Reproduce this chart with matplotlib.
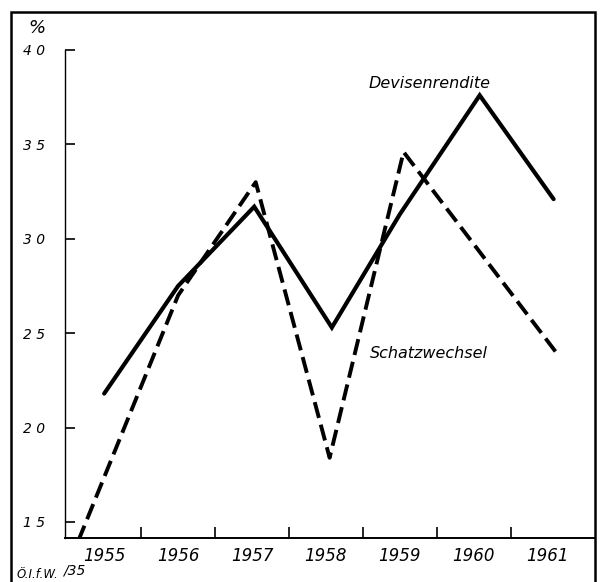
import matplotlib
matplotlib.use("Agg")
import matplotlib.pyplot as plt
from matplotlib.patches import Rectangle

# ---- data ----
years = [1955, 1956, 1957, 1958, 1959, 1960, 1961]
year_labels = ["1955", "1956", "1957", "1958", "1959", "1960", "1961"]

devisen_x = [1955.0, 1956.0, 1957.03, 1958.08, 1959.0, 1960.08, 1961.08]
devisen_y = [2.18, 2.75, 3.17, 2.53, 3.13, 3.76, 3.21]

schatz_x = [1954.65, 1956.0, 1957.05, 1958.05, 1959.05, 1961.15]
schatz_y = [1.40, 2.70, 3.30, 1.84, 3.46, 2.38]

y_ticks = [1.5, 2.0, 2.5, 3.0, 3.5, 4.0]
y_tick_labels = ["1 5", "2 0", "2 5", "3 0", "3 5", "4 0"]

W, H = 606, 582
fig = plt.figure(figsize=(W / 100, H / 100), dpi=100)

def fx(px):
    return px / W

def fy(py):
    return 1 - py / H

# outer frame
fig.patches.append(Rectangle((fx(11), fy(595)), fx(595) - fx(11), fy(12) - fy(595),
                             transform=fig.transFigure, fill=False, lw=1.8,
                             edgecolor="black", zorder=0))

ax = fig.add_axes([fx(65), fy(538), fx(595) - fx(65), fy(50) - fy(538)])
ax.set_xlim(1954.47, 1961.64)
ax.set_ylim(1.415, 4.0)

ax.plot(devisen_x, devisen_y, color="black", lw=3.0, solid_capstyle="round",
        solid_joinstyle="miter", clip_on=True)
ax.plot(schatz_x, schatz_y, color="black", lw=2.8, dashes=(4.2, 1.8),
        dash_capstyle="butt", clip_on=True)

ax.spines["top"].set_visible(False)
ax.spines["right"].set_visible(False)
ax.spines["left"].set_linewidth(1.0)
ax.spines["bottom"].set_linewidth(1.4)

# ticks
ax.set_xticks([y + 0.5 for y in years[:-1]])
ax.set_xticklabels([])
ax.tick_params(axis="x", direction="in", length=8, width=1.2)
for yr, lab in zip(years, year_labels):
    ax.text(yr, -0.036, lab, transform=ax.get_xaxis_transform(), ha="center",
            va="center", fontsize=12, style="italic", family="DejaVu Sans")

ax.set_yticks(y_ticks)
ax.set_yticklabels(y_tick_labels, fontsize=10, style="italic")
ax.tick_params(axis="y", direction="in", length=7, width=1.2, pad=14)

ax.text(1959.40, 3.82, "Devisenrendite", ha="center", va="center",
        fontsize=11.5, style="italic")
ax.text(1959.39, 2.39, "Schatzwechsel", ha="center", va="center",
        fontsize=11.5, style="italic")

fig.text(fx(37), fy(28), "%", ha="center", va="center", fontsize=13, style="italic")
fig.text(fx(17), fy(575), "Ö.I.f.W.", ha="left", va="center", fontsize=8.5, style="italic")
fig.text(fx(63), fy(571), "/35", ha="left", va="center", fontsize=10, style="italic")

fig.savefig("out.png", dpi=100)
